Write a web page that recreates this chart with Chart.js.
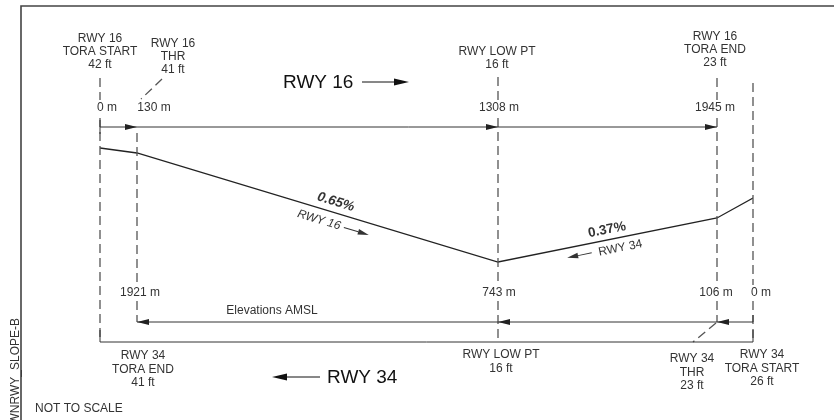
<!DOCTYPE html>
<html>
<head>
<meta charset="utf-8">
<script src="https://cdn.jsdelivr.net/npm/chart.js@4"></script>
<style>
  body { margin: 0; background: #fff; }
  canvas { display: block; }
</style>
</head>
<body>
<canvas id="slope" width="834" height="420"></canvas>
<script>
// stations along the runway, left to right (diagram is NOT to scale)
const stations = ['RWY 16 TORA START', 'RWY 16 THR', 'RWY LOW PT', 'RWY 16 TORA END', 'RWY 34 TORA START'];
const stationPos = [0, 37, 398, 617, 653];       // schematic position along the drawing
const elevFt = [42, 41, 16, 23, 26];             // elevations AMSL
const profileDrawn = [192, 187, 78, 122, 142];   // drawn height of the profile (exaggerated)
const distRwy16 = [0, 130, 1308, 1945];
const distRwy34 = [1921, 743, 106, 0];
const slopes = ['0.65%', '0.37%'];

const topLabels = [['RWY 16', 'TORA START'], ['RWY 16', 'THR'], ['RWY LOW PT'], ['RWY 16', 'TORA END']];
const bottomLabels = [['RWY 34', 'TORA END'], ['RWY LOW PT'], ['RWY 34', 'THR'], ['RWY 34', 'TORA START']];

const FONT = '"Liberation Sans", Arial, sans-serif';
const INK = '#333';

function head(ctx, x, y, dir, len, half) {
  ctx.beginPath();
  ctx.moveTo(x, y);
  ctx.lineTo(x - dir * len, y - half);
  ctx.lineTo(x - dir * len, y + half);
  ctx.closePath();
  ctx.fill();
}

function line(ctx, x1, y1, x2, y2) {
  ctx.beginPath();
  ctx.moveTo(x1, y1);
  ctx.lineTo(x2, y2);
  ctx.stroke();
}

const diagram = {
  id: 'diagram',
  afterDraw(chart) {
    const ctx = chart.ctx;
    const xs = chart.scales.x, ys = chart.scales.y;
    const sx = stationPos.map(v => xs.getPixelForValue(v));
    const sy = profileDrawn.map(v => ys.getPixelForValue(v));
    ctx.save();
    ctx.fillStyle = INK;
    ctx.strokeStyle = INK;

    // frame
    ctx.lineWidth = 1.6;
    ctx.strokeStyle = '#444';
    ctx.beginPath();
    ctx.moveTo(21, 420);
    ctx.lineTo(21, 6);
    ctx.lineTo(834, 6);
    ctx.stroke();

    // dashed station lines
    const spans = [
      [[78, 100], [118, 342]],
      [[133, 285], [301, 322]],
      [[77, 100], [118, 285], [301, 342]],
      [[78, 100], [118, 285], [301, 322]],
      [[83, 285], [301, 342]]
    ];
    ctx.strokeStyle = '#555';
    ctx.lineWidth = 1.3;
    ctx.setLineDash([9, 5]);
    spans.forEach((list, i) => list.forEach(s => line(ctx, sx[i], s[0], sx[i], s[1])));
    // leaders to the thresholds
    line(ctx, sx[1] + 25, 79, sx[1] + 4, 99);
    line(ctx, sx[3] - 1, 323, sx[3] - 24, 342);
    ctx.setLineDash([]);

    // dimension lines
    ctx.strokeStyle = INK;
    ctx.fillStyle = '#222';
    ctx.lineWidth = 1;
    line(ctx, sx[0], 127, sx[3], 127);
    line(ctx, sx[0], 120, sx[0], 134);
    [1, 2, 3].forEach(i => head(ctx, sx[i], 127, 1, 12, 3));
    line(ctx, sx[1], 322, sx[4], 322);
    line(ctx, sx[4], 315, sx[4], 322);
    [1, 2, 3].forEach(i => head(ctx, sx[i], 322, -1, 12, 3));
    line(ctx, sx[0], 342, sx[4], 342);
    line(ctx, sx[0], 330, sx[0], 342);
    line(ctx, sx[4], 330, sx[4], 342);

    // station labels
    ctx.fillStyle = INK;
    ctx.font = '12px ' + FONT;
    ctx.textAlign = 'center';
    ctx.textBaseline = 'middle';
    const topDx = [0, 36, -1, -2], topLast = [65, 70, 65, 63];
    topLabels.forEach((lines, i) => {
      const all = lines.concat([elevFt[i] + ' ft']);
      all.forEach((t, k) => ctx.fillText(t, sx[i] + topDx[i], topLast[i] - (all.length - 1 - k) * 13));
    });
    const botDx = [6, 3, -25, 9], botFirst = [356, 355, 359, 355];
    bottomLabels.forEach((lines, i) => {
      const all = lines.concat([elevFt[i + 1] + ' ft']);
      all.forEach((t, k) => ctx.fillText(t, sx[i + 1] + botDx[i], botFirst[i] + k * 13.5));
    });

    // distances
    const d16Dx = [7, 17, 1, -2];
    distRwy16.forEach((d, i) => ctx.fillText(d + ' m', sx[i] + d16Dx[i], 108));
    const d34Dx = [3, 1, -1, 8];
    distRwy34.forEach((d, i) => ctx.fillText(d + ' m', sx[i + 1] + d34Dx[i], 293));
    ctx.fillText('Elevations AMSL', 272, 311);

    // direction titles
    ctx.font = '19px ' + FONT;
    ctx.fillStyle = '#111';
    ctx.strokeStyle = '#111';
    ctx.textAlign = 'left';
    ctx.fillText('RWY 16', 283, 83);
    line(ctx, 362, 82, 396, 82);
    head(ctx, 409, 82, 1, 15, 3.4);
    ctx.fillText('RWY 34', 327, 378);
    line(ctx, 286, 377, 320, 377);
    head(ctx, 272, 377, -1, 15, 3.4);

    // slope labels along the profile
    ctx.fillStyle = INK;
    ctx.strokeStyle = INK;
    const seg = (a, b, t, draw) => {
      const x = sx[a] + (sx[b] - sx[a]) * t, y = sy[a] + (sy[b] - sy[a]) * t;
      ctx.save();
      ctx.translate(x, y);
      ctx.rotate(Math.atan2(sy[b] - sy[a], sx[b] - sx[a]));
      draw();
      ctx.restore();
    };
    ctx.textAlign = 'center';
    seg(1, 2, 0.5, () => {
      ctx.font = 'italic bold 13.5px ' + FONT;
      ctx.fillText(slopes[0], 16, -10.5);
      ctx.font = 'italic 12px ' + FONT;
      ctx.fillText('RWY 16', 5, 11.5);
      line(ctx, 31, 11.5, 46, 11.5);
      head(ctx, 57, 11.5, 1, 11, 2.8);
    });
    seg(2, 3, 0.5, () => {
      ctx.font = 'bold 13.5px ' + FONT;
      ctx.fillText(slopes[1], 1.5, -10);
      ctx.font = '12px ' + FONT;
      ctx.fillText('RWY 34', 11, 10.5);
      line(ctx, -18, 9.5, -32, 9.5);
      head(ctx, -43, 9.5, -1, 11, 2.8);
    });

    // notes
    ctx.textAlign = 'left';
    ctx.font = '12px ' + FONT;
    ctx.fillText('NOT TO SCALE', 35, 409);
    ctx.translate(19, 318);
    ctx.rotate(-Math.PI / 2);
    ctx.textAlign = 'right';
    ctx.textBaseline = 'alphabetic';
    ctx.fillText('WNRWY_SLOPE-B', 0, 0);
    ctx.restore();
  }
};

new Chart(document.getElementById('slope').getContext('2d'), {
  type: 'line',
  data: {
    labels: stations,
    datasets: [{
      label: 'Runway profile',
      data: stationPos.map((x, i) => ({ x: x, y: profileDrawn[i] })),
      borderColor: '#222',
      borderWidth: 1.3,
      pointRadius: 0,
      tension: 0
    }]
  },
  options: {
    responsive: false,
    animation: false,
    layout: { padding: { left: 100, right: 81, top: 100, bottom: 80 } },
    plugins: { legend: { display: false }, tooltip: { enabled: false } },
    scales: {
      x: { type: 'linear', display: false, min: 0, max: 653 },
      y: { display: false, min: 0, max: 240 }
    }
  },
  plugins: [diagram]
});
</script>
</body>
</html>
